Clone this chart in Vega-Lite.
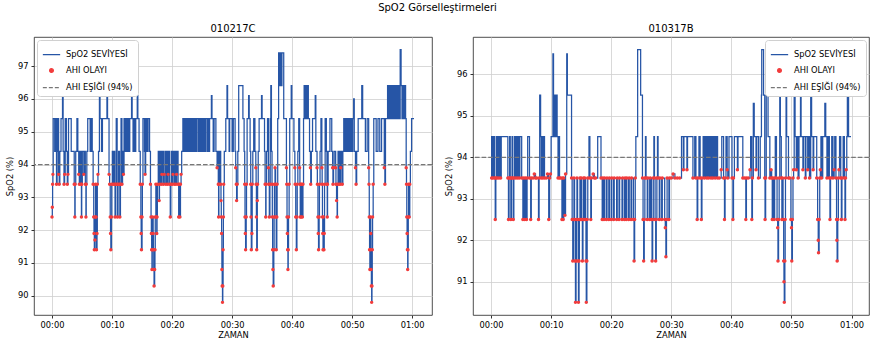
{
"$schema":"https://vega.github.io/schema/vega-lite/v6.json",
"padding":{"left":5,"top":2,"right":0,"bottom":0},
"title":{"text":"SpO2 Görselleştirmeleri","fontSize":10,"font":"DejaVu Sans","fontWeight":"normal","offset":11,"anchor":"middle","color":"#000"},
"datasets":{
"a":[{"t":0,"v":92.4},{"t":0.05,"v":92.7},{"t":0.1,"v":93.4},{"t":0.15,"v":93.7},{"t":0.2,"v":95.4},{"t":0.45,"v":94.4},{"t":0.55,"v":95.4},{"t":0.75,"v":93.4},{"t":0.85,"v":94.4},{"t":0.95,"v":95.4},{"t":1.1,"v":93.7},{"t":1.2,"v":93.4},{"t":1.3,"v":94.4},{"t":1.5,"v":95.4},{"t":1.75,"v":96.1},{"t":1.85,"v":94.4},{"t":2.0,"v":93.4},{"t":2.1,"v":93.7},{"t":2.2,"v":95.4},{"t":2.4,"v":94.4},{"t":2.55,"v":93.4},{"t":2.65,"v":93.7},{"t":2.75,"v":95.4},{"t":3.2,"v":94.4},{"t":3.7,"v":93.4},{"t":3.8,"v":92.4},{"t":3.85,"v":93.4},{"t":3.95,"v":94.4},{"t":4.15,"v":95.4},{"t":4.3,"v":94.4},{"t":4.45,"v":93.7},{"t":4.55,"v":93.4},{"t":4.65,"v":94.4},{"t":4.85,"v":93.4},{"t":4.9,"v":92.4},{"t":4.95,"v":93.4},{"t":5.05,"v":94.4},{"t":5.3,"v":93.7},{"t":5.4,"v":94.4},{"t":5.55,"v":93.4},{"t":5.65,"v":92.4},{"t":5.7,"v":93.4},{"t":5.8,"v":94.4},{"t":5.95,"v":95.4},{"t":6.35,"v":94.4},{"t":6.5,"v":95.4},{"t":6.7,"v":94.4},{"t":6.85,"v":93.4},{"t":6.95,"v":92.4},{"t":7.0,"v":91.9},{"t":7.05,"v":91.4},{"t":7.15,"v":91.7},{"t":7.2,"v":92.4},{"t":7.25,"v":93.4},{"t":7.35,"v":92.4},{"t":7.4,"v":91.4},{"t":7.5,"v":91.9},{"t":7.55,"v":93.4},{"t":7.65,"v":93.7},{"t":7.75,"v":94.4},{"t":7.9,"v":96.4},{"t":8.0,"v":95.4},{"t":8.25,"v":94.4},{"t":8.4,"v":95.4},{"t":9.15,"v":96.4},{"t":9.25,"v":95.4},{"t":9.5,"v":93.7},{"t":9.6,"v":93.4},{"t":9.7,"v":92.4},{"t":9.75,"v":91.9},{"t":9.8,"v":91.4},{"t":9.9,"v":92.4},{"t":9.95,"v":93.4},{"t":10.05,"v":94.4},{"t":10.2,"v":93.4},{"t":10.3,"v":94.4},{"t":10.45,"v":93.4},{"t":10.5,"v":92.4},{"t":10.6,"v":93.4},{"t":10.7,"v":95.4},{"t":10.85,"v":93.4},{"t":10.9,"v":92.4},{"t":11.0,"v":93.4},{"t":11.1,"v":94.4},{"t":11.25,"v":93.4},{"t":11.3,"v":92.4},{"t":11.4,"v":93.4},{"t":11.5,"v":95.4},{"t":11.65,"v":93.4},{"t":11.75,"v":94.4},{"t":11.9,"v":93.7},{"t":12.0,"v":95.4},{"t":12.2,"v":94.4},{"t":12.35,"v":95.4},{"t":12.5,"v":94.4},{"t":12.65,"v":95.4},{"t":12.8,"v":94.4},{"t":12.95,"v":95.4},{"t":13.25,"v":96.4},{"t":13.35,"v":95.4},{"t":13.5,"v":94.4},{"t":13.6,"v":95.4},{"t":13.8,"v":94.4},{"t":13.95,"v":95.4},{"t":14.2,"v":96.1},{"t":14.3,"v":95.4},{"t":14.5,"v":94.4},{"t":14.7,"v":93.4},{"t":14.8,"v":92.4},{"t":14.85,"v":91.9},{"t":14.9,"v":91.4},{"t":15.0,"v":92.4},{"t":15.05,"v":93.4},{"t":15.15,"v":95.4},{"t":15.4,"v":94.4},{"t":15.5,"v":93.7},{"t":15.6,"v":95.4},{"t":15.8,"v":94.4},{"t":16.0,"v":95.4},{"t":16.25,"v":94.4},{"t":16.4,"v":93.4},{"t":16.5,"v":92.4},{"t":16.55,"v":91.9},{"t":16.6,"v":91.4},{"t":16.65,"v":90.8},{"t":16.7,"v":91.4},{"t":16.75,"v":92.4},{"t":16.85,"v":91.9},{"t":16.9,"v":91.4},{"t":16.95,"v":90.8},{"t":17.0,"v":90.3},{"t":17.1,"v":90.8},{"t":17.15,"v":91.4},{"t":17.2,"v":92.4},{"t":17.3,"v":93.4},{"t":17.35,"v":92.4},{"t":17.45,"v":91.9},{"t":17.5,"v":92.4},{"t":17.55,"v":93.4},{"t":17.7,"v":94.4},{"t":17.85,"v":92.9},{"t":17.9,"v":93.4},{"t":18.05,"v":94.4},{"t":18.2,"v":93.4},{"t":18.3,"v":93.7},{"t":18.4,"v":94.4},{"t":18.55,"v":93.4},{"t":18.7,"v":93.7},{"t":18.8,"v":94.4},{"t":18.95,"v":93.4},{"t":19.1,"v":94.4},{"t":19.25,"v":93.4},{"t":19.35,"v":93.7},{"t":19.45,"v":94.4},{"t":19.6,"v":93.4},{"t":19.7,"v":92.4},{"t":19.8,"v":93.4},{"t":19.9,"v":94.4},{"t":20.05,"v":93.4},{"t":20.15,"v":93.7},{"t":20.25,"v":94.4},{"t":20.4,"v":93.4},{"t":20.5,"v":94.4},{"t":20.65,"v":93.4},{"t":20.75,"v":93.7},{"t":20.85,"v":94.4},{"t":21.0,"v":93.4},{"t":21.1,"v":92.4},{"t":21.2,"v":93.4},{"t":21.3,"v":92.4},{"t":21.4,"v":93.4},{"t":21.5,"v":93.7},{"t":21.6,"v":94.4},{"t":21.8,"v":95.4},{"t":22.0,"v":94.4},{"t":22.1,"v":95.4},{"t":22.3,"v":94.4},{"t":22.4,"v":95.4},{"t":22.55,"v":94.4},{"t":22.65,"v":95.4},{"t":22.85,"v":94.4},{"t":22.95,"v":95.4},{"t":23.15,"v":94.4},{"t":23.25,"v":95.4},{"t":23.4,"v":94.4},{"t":23.5,"v":95.4},{"t":23.7,"v":94.4},{"t":23.8,"v":95.4},{"t":24.0,"v":94.4},{"t":24.1,"v":95.4},{"t":24.35,"v":94.4},{"t":24.45,"v":95.4},{"t":24.6,"v":94.4},{"t":24.7,"v":95.4},{"t":24.9,"v":94.4},{"t":25.0,"v":95.4},{"t":25.2,"v":94.4},{"t":25.3,"v":95.4},{"t":25.5,"v":94.4},{"t":25.6,"v":95.4},{"t":25.85,"v":94.4},{"t":25.95,"v":95.4},{"t":26.15,"v":94.4},{"t":26.25,"v":95.4},{"t":26.55,"v":96.1},{"t":26.65,"v":95.4},{"t":26.85,"v":94.4},{"t":27.0,"v":95.4},{"t":27.3,"v":94.4},{"t":27.5,"v":93.9},{"t":27.6,"v":94.4},{"t":27.7,"v":93.4},{"t":27.75,"v":92.4},{"t":27.8,"v":93.4},{"t":27.9,"v":94.4},{"t":28.1,"v":93.4},{"t":28.15,"v":92.9},{"t":28.2,"v":92.4},{"t":28.25,"v":91.9},{"t":28.3,"v":90.8},{"t":28.35,"v":90.3},{"t":28.4,"v":89.8},{"t":28.45,"v":90.3},{"t":28.5,"v":91.4},{"t":28.55,"v":92.4},{"t":28.6,"v":93.4},{"t":28.7,"v":94.4},{"t":28.95,"v":95.4},{"t":29.15,"v":96.4},{"t":29.25,"v":95.4},{"t":29.5,"v":94.4},{"t":29.6,"v":95.4},{"t":30.0,"v":94.4},{"t":30.2,"v":95.4},{"t":30.5,"v":94.4},{"t":30.6,"v":93.9},{"t":30.7,"v":93.4},{"t":30.75,"v":92.9},{"t":30.85,"v":93.4},{"t":30.95,"v":94.4},{"t":31.1,"v":96.4},{"t":31.8,"v":95.4},{"t":32.0,"v":94.4},{"t":32.1,"v":93.4},{"t":32.15,"v":92.4},{"t":32.2,"v":91.9},{"t":32.25,"v":91.4},{"t":32.35,"v":92.4},{"t":32.4,"v":93.4},{"t":32.5,"v":95.4},{"t":32.75,"v":96.1},{"t":32.85,"v":95.4},{"t":33.0,"v":94.4},{"t":33.1,"v":93.4},{"t":33.15,"v":92.4},{"t":33.2,"v":91.4},{"t":33.3,"v":91.9},{"t":33.35,"v":93.4},{"t":33.45,"v":94.4},{"t":33.6,"v":95.4},{"t":33.8,"v":94.4},{"t":33.95,"v":93.9},{"t":34.0,"v":93.4},{"t":34.05,"v":92.4},{"t":34.1,"v":91.4},{"t":34.2,"v":92.9},{"t":34.25,"v":93.4},{"t":34.35,"v":94.4},{"t":34.5,"v":95.4},{"t":34.9,"v":96.1},{"t":35.0,"v":95.4},{"t":35.4,"v":94.4},{"t":35.5,"v":93.4},{"t":35.6,"v":92.4},{"t":35.65,"v":93.4},{"t":35.75,"v":94.4},{"t":35.9,"v":95.4},{"t":36.05,"v":93.9},{"t":36.1,"v":93.4},{"t":36.2,"v":92.4},{"t":36.3,"v":93.4},{"t":36.35,"v":95.4},{"t":36.45,"v":96.4},{"t":36.55,"v":94.4},{"t":36.65,"v":93.4},{"t":36.7,"v":92.4},{"t":36.75,"v":91.4},{"t":36.8,"v":90.8},{"t":36.85,"v":90.3},{"t":36.95,"v":91.4},{"t":37.0,"v":92.4},{"t":37.05,"v":93.4},{"t":37.15,"v":93.9},{"t":37.25,"v":93.4},{"t":37.3,"v":92.4},{"t":37.35,"v":91.4},{"t":37.45,"v":92.4},{"t":37.5,"v":93.4},{"t":37.6,"v":95.4},{"t":37.75,"v":97.4},{"t":37.9,"v":96.4},{"t":38.0,"v":97.4},{"t":38.2,"v":96.4},{"t":38.3,"v":97.4},{"t":38.6,"v":95.4},{"t":39.05,"v":93.9},{"t":39.1,"v":93.4},{"t":39.15,"v":92.4},{"t":39.2,"v":91.9},{"t":39.25,"v":91.4},{"t":39.3,"v":90.8},{"t":39.35,"v":91.4},{"t":39.4,"v":92.4},{"t":39.5,"v":93.4},{"t":39.6,"v":95.4},{"t":39.85,"v":96.4},{"t":39.95,"v":95.4},{"t":40.3,"v":94.4},{"t":40.45,"v":93.9},{"t":40.5,"v":93.4},{"t":40.6,"v":92.4},{"t":40.7,"v":91.4},{"t":40.8,"v":92.4},{"t":40.85,"v":93.4},{"t":40.95,"v":94.4},{"t":41.1,"v":95.4},{"t":41.25,"v":93.9},{"t":41.3,"v":93.4},{"t":41.35,"v":92.4},{"t":41.45,"v":93.4},{"t":41.5,"v":92.4},{"t":41.6,"v":93.4},{"t":41.7,"v":92.4},{"t":41.8,"v":93.4},{"t":41.9,"v":95.4},{"t":42.0,"v":96.4},{"t":42.1,"v":95.4},{"t":42.2,"v":96.4},{"t":42.4,"v":95.4},{"t":42.5,"v":96.4},{"t":42.7,"v":95.4},{"t":42.9,"v":94.4},{"t":43.05,"v":93.9},{"t":43.1,"v":93.4},{"t":43.2,"v":94.4},{"t":43.4,"v":95.4},{"t":43.85,"v":96.1},{"t":43.95,"v":94.4},{"t":44.15,"v":93.9},{"t":44.2,"v":93.4},{"t":44.3,"v":92.4},{"t":44.35,"v":91.9},{"t":44.4,"v":91.4},{"t":44.5,"v":92.4},{"t":44.55,"v":93.4},{"t":44.65,"v":94.4},{"t":44.8,"v":95.4},{"t":44.95,"v":93.9},{"t":45.0,"v":93.4},{"t":45.05,"v":92.4},{"t":45.1,"v":91.9},{"t":45.15,"v":91.4},{"t":45.2,"v":92.4},{"t":45.3,"v":91.4},{"t":45.35,"v":91.9},{"t":45.4,"v":93.4},{"t":45.5,"v":95.4},{"t":45.7,"v":94.4},{"t":45.8,"v":93.4},{"t":45.85,"v":92.4},{"t":45.9,"v":93.4},{"t":46.0,"v":94.4},{"t":46.3,"v":95.4},{"t":46.6,"v":94.4},{"t":46.75,"v":93.9},{"t":46.8,"v":93.4},{"t":46.9,"v":93.9},{"t":47.0,"v":94.4},{"t":47.25,"v":93.9},{"t":47.3,"v":93.4},{"t":47.4,"v":92.9},{"t":47.5,"v":92.4},{"t":47.55,"v":93.4},{"t":47.65,"v":94.4},{"t":47.8,"v":93.4},{"t":47.9,"v":94.4},{"t":48.0,"v":93.4},{"t":48.1,"v":93.9},{"t":48.2,"v":94.4},{"t":48.35,"v":93.4},{"t":48.45,"v":94.4},{"t":48.6,"v":95.4},{"t":48.75,"v":94.4},{"t":48.85,"v":95.4},{"t":49.0,"v":94.4},{"t":49.1,"v":95.4},{"t":49.25,"v":94.4},{"t":49.35,"v":95.4},{"t":49.5,"v":94.4},{"t":49.6,"v":95.4},{"t":49.75,"v":94.4},{"t":49.85,"v":95.4},{"t":50.0,"v":94.4},{"t":50.1,"v":95.4},{"t":50.25,"v":96.0},{"t":50.35,"v":94.4},{"t":50.55,"v":93.9},{"t":50.65,"v":93.4},{"t":50.75,"v":94.4},{"t":51.0,"v":95.4},{"t":51.6,"v":96.4},{"t":51.75,"v":95.4},{"t":52.2,"v":94.4},{"t":52.5,"v":95.4},{"t":52.75,"v":93.9},{"t":52.8,"v":93.4},{"t":52.85,"v":92.4},{"t":52.9,"v":91.4},{"t":52.95,"v":90.8},{"t":53.0,"v":91.4},{"t":53.05,"v":92.4},{"t":53.1,"v":91.9},{"t":53.15,"v":90.8},{"t":53.2,"v":90.3},{"t":53.25,"v":89.8},{"t":53.3,"v":90.3},{"t":53.35,"v":91.4},{"t":53.4,"v":92.4},{"t":53.5,"v":93.4},{"t":53.6,"v":95.4},{"t":54.0,"v":94.4},{"t":54.3,"v":95.4},{"t":54.6,"v":94.4},{"t":54.9,"v":95.4},{"t":55.35,"v":93.9},{"t":55.45,"v":93.4},{"t":55.55,"v":95.4},{"t":55.9,"v":96.4},{"t":56.0,"v":95.4},{"t":56.2,"v":96.4},{"t":56.3,"v":95.4},{"t":56.5,"v":96.4},{"t":56.6,"v":95.4},{"t":56.8,"v":96.4},{"t":56.9,"v":95.4},{"t":57.1,"v":96.4},{"t":57.2,"v":95.4},{"t":57.4,"v":96.4},{"t":57.5,"v":95.4},{"t":57.7,"v":96.4},{"t":57.8,"v":95.4},{"t":58.0,"v":97.5},{"t":58.15,"v":96.4},{"t":58.3,"v":95.4},{"t":58.45,"v":96.4},{"t":58.6,"v":95.4},{"t":58.75,"v":96.4},{"t":58.9,"v":95.4},{"t":59.0,"v":93.9},{"t":59.05,"v":93.4},{"t":59.1,"v":92.4},{"t":59.15,"v":91.9},{"t":59.2,"v":91.4},{"t":59.25,"v":90.8},{"t":59.3,"v":91.4},{"t":59.35,"v":92.4},{"t":59.4,"v":93.4},{"t":59.5,"v":92.4},{"t":59.6,"v":93.4},{"t":59.7,"v":94.4},{"t":59.9,"v":95.4},{"t":60.3,"v":95.4}],
"b":[{"t":0,"v":94.5},{"t":0.1,"v":93.5},{"t":0.2,"v":94.5},{"t":0.3,"v":93.5},{"t":0.4,"v":94.5},{"t":0.6,"v":93.5},{"t":0.7,"v":92.5},{"t":0.8,"v":93.5},{"t":0.9,"v":94.5},{"t":1.0,"v":93.5},{"t":1.1,"v":94.5},{"t":1.3,"v":93.5},{"t":1.4,"v":94.5},{"t":1.6,"v":93.5},{"t":1.7,"v":94.5},{"t":2.8,"v":93.5},{"t":2.9,"v":92.5},{"t":3.0,"v":93.5},{"t":3.1,"v":94.5},{"t":3.2,"v":93.5},{"t":3.3,"v":92.5},{"t":3.4,"v":93.5},{"t":3.5,"v":94.5},{"t":3.6,"v":93.5},{"t":3.7,"v":92.5},{"t":3.8,"v":93.5},{"t":3.9,"v":94.5},{"t":4.1,"v":93.5},{"t":4.2,"v":94.5},{"t":4.4,"v":93.5},{"t":4.5,"v":94.5},{"t":4.7,"v":93.5},{"t":4.8,"v":94.5},{"t":5.1,"v":93.5},{"t":5.3,"v":92.5},{"t":5.4,"v":93.5},{"t":5.6,"v":92.5},{"t":5.7,"v":93.5},{"t":5.9,"v":92.5},{"t":6.0,"v":93.5},{"t":6.1,"v":94.5},{"t":6.4,"v":93.5},{"t":6.6,"v":92.5},{"t":6.7,"v":93.5},{"t":7.0,"v":93.5},{"t":7.2,"v":93.6},{"t":7.4,"v":93.5},{"t":7.6,"v":93.5},{"t":7.9,"v":92.5},{"t":8.0,"v":93.5},{"t":8.1,"v":95.5},{"t":8.25,"v":94.5},{"t":8.35,"v":93.5},{"t":8.5,"v":94.5},{"t":8.6,"v":93.5},{"t":8.7,"v":94.5},{"t":8.9,"v":93.5},{"t":9.2,"v":93.5},{"t":9.4,"v":93.6},{"t":9.6,"v":92.5},{"t":9.75,"v":93.5},{"t":9.9,"v":93.6},{"t":10.0,"v":94.5},{"t":10.3,"v":96.5},{"t":10.4,"v":94.5},{"t":10.5,"v":95.5},{"t":10.6,"v":94.5},{"t":10.7,"v":95.5},{"t":10.8,"v":94.5},{"t":10.9,"v":95.5},{"t":11.0,"v":94.5},{"t":11.15,"v":93.5},{"t":11.3,"v":94.5},{"t":11.4,"v":93.5},{"t":11.6,"v":93.5},{"t":11.8,"v":92.5},{"t":11.9,"v":93.5},{"t":12.0,"v":92.5},{"t":12.1,"v":93.5},{"t":12.3,"v":92.6},{"t":12.4,"v":93.6},{"t":12.6,"v":96.5},{"t":12.7,"v":95.5},{"t":13.4,"v":93.5},{"t":13.5,"v":92.5},{"t":13.6,"v":91.5},{"t":13.7,"v":92.5},{"t":13.8,"v":93.5},{"t":13.9,"v":92.5},{"t":14.0,"v":91.5},{"t":14.05,"v":90.5},{"t":14.15,"v":91.5},{"t":14.2,"v":92.5},{"t":14.3,"v":93.5},{"t":14.4,"v":92.5},{"t":14.5,"v":91.5},{"t":14.55,"v":90.5},{"t":14.65,"v":91.5},{"t":14.7,"v":92.5},{"t":14.8,"v":93.5},{"t":14.9,"v":92.5},{"t":15.0,"v":93.5},{"t":15.1,"v":92.5},{"t":15.2,"v":91.5},{"t":15.3,"v":92.5},{"t":15.4,"v":93.5},{"t":15.5,"v":92.5},{"t":15.6,"v":93.5},{"t":15.75,"v":92.5},{"t":15.8,"v":91.5},{"t":15.85,"v":90.5},{"t":15.95,"v":91.5},{"t":16.0,"v":92.5},{"t":16.1,"v":93.5},{"t":16.3,"v":94.5},{"t":16.45,"v":93.5},{"t":16.6,"v":92.5},{"t":16.7,"v":93.5},{"t":17.0,"v":93.6},{"t":17.2,"v":93.5},{"t":17.4,"v":93.5},{"t":17.75,"v":94.5},{"t":18.3,"v":93.5},{"t":18.5,"v":92.5},{"t":18.6,"v":93.5},{"t":18.8,"v":92.5},{"t":18.9,"v":93.5},{"t":19.2,"v":92.5},{"t":19.3,"v":93.5},{"t":19.6,"v":92.5},{"t":19.7,"v":93.5},{"t":20.0,"v":92.5},{"t":20.1,"v":93.5},{"t":20.4,"v":92.5},{"t":20.5,"v":93.5},{"t":20.9,"v":92.5},{"t":21.0,"v":93.5},{"t":21.3,"v":92.5},{"t":21.4,"v":93.5},{"t":21.8,"v":92.5},{"t":21.9,"v":93.5},{"t":22.2,"v":92.5},{"t":22.3,"v":93.5},{"t":22.5,"v":92.5},{"t":22.6,"v":93.5},{"t":22.9,"v":92.5},{"t":23.0,"v":93.5},{"t":23.3,"v":92.5},{"t":23.4,"v":93.5},{"t":23.7,"v":92.5},{"t":23.8,"v":91.5},{"t":23.9,"v":92.5},{"t":24.0,"v":93.5},{"t":24.1,"v":94.5},{"t":24.4,"v":96.6},{"t":24.9,"v":95.5},{"t":25.2,"v":93.5},{"t":25.3,"v":92.5},{"t":25.4,"v":91.5},{"t":25.5,"v":92.5},{"t":25.6,"v":93.5},{"t":25.7,"v":94.5},{"t":25.8,"v":93.5},{"t":26.0,"v":92.5},{"t":26.1,"v":93.5},{"t":26.4,"v":92.5},{"t":26.5,"v":93.5},{"t":26.7,"v":92.5},{"t":26.8,"v":91.5},{"t":26.9,"v":92.5},{"t":27.0,"v":93.5},{"t":27.1,"v":94.5},{"t":27.2,"v":93.5},{"t":27.3,"v":92.5},{"t":27.4,"v":91.5},{"t":27.5,"v":92.5},{"t":27.6,"v":93.5},{"t":27.7,"v":94.5},{"t":27.8,"v":93.5},{"t":28.0,"v":92.5},{"t":28.1,"v":93.5},{"t":28.4,"v":92.5},{"t":28.5,"v":93.5},{"t":28.9,"v":92.5},{"t":29.0,"v":92.3},{"t":29.1,"v":91.6},{"t":29.2,"v":92.5},{"t":29.3,"v":93.5},{"t":29.6,"v":92.5},{"t":29.7,"v":93.5},{"t":30.0,"v":93.5},{"t":30.3,"v":93.6},{"t":30.6,"v":93.5},{"t":31.0,"v":93.5},{"t":31.4,"v":93.5},{"t":31.7,"v":94.5},{"t":32.0,"v":93.7},{"t":32.1,"v":94.5},{"t":32.6,"v":93.7},{"t":32.7,"v":94.5},{"t":33.6,"v":93.5},{"t":33.9,"v":94.5},{"t":34.1,"v":93.5},{"t":34.3,"v":92.5},{"t":34.4,"v":93.5},{"t":34.6,"v":94.5},{"t":34.8,"v":93.5},{"t":35.0,"v":92.5},{"t":35.1,"v":93.5},{"t":35.3,"v":94.5},{"t":35.5,"v":93.5},{"t":35.7,"v":94.5},{"t":35.9,"v":93.5},{"t":36.0,"v":94.5},{"t":36.2,"v":93.5},{"t":36.4,"v":94.5},{"t":36.6,"v":93.5},{"t":36.7,"v":94.5},{"t":36.9,"v":93.5},{"t":37.1,"v":94.5},{"t":37.3,"v":93.5},{"t":37.5,"v":94.5},{"t":37.7,"v":93.5},{"t":38.0,"v":93.5},{"t":38.3,"v":93.7},{"t":38.4,"v":94.5},{"t":38.7,"v":93.5},{"t":38.85,"v":92.5},{"t":38.95,"v":93.5},{"t":39.1,"v":94.5},{"t":39.3,"v":93.7},{"t":39.4,"v":93.5},{"t":39.6,"v":94.5},{"t":40.1,"v":93.5},{"t":40.25,"v":92.5},{"t":40.35,"v":93.5},{"t":40.5,"v":94.5},{"t":41.0,"v":93.7},{"t":41.1,"v":94.5},{"t":41.9,"v":93.5},{"t":42.2,"v":93.5},{"t":42.4,"v":92.5},{"t":42.5,"v":93.5},{"t":42.8,"v":93.5},{"t":43.1,"v":93.7},{"t":43.2,"v":94.5},{"t":43.4,"v":92.5},{"t":43.5,"v":93.5},{"t":43.65,"v":95.3},{"t":43.8,"v":94.5},{"t":44.1,"v":93.7},{"t":44.2,"v":94.5},{"t":44.5,"v":93.5},{"t":44.8,"v":94.5},{"t":45.0,"v":95.5},{"t":45.05,"v":96.6},{"t":45.35,"v":95.5},{"t":45.55,"v":93.5},{"t":45.6,"v":92.5},{"t":45.7,"v":93.5},{"t":45.8,"v":95.5},{"t":46.1,"v":94.5},{"t":46.4,"v":93.5},{"t":46.6,"v":93.7},{"t":46.7,"v":93.5},{"t":46.8,"v":92.5},{"t":46.9,"v":93.5},{"t":47.1,"v":92.5},{"t":47.2,"v":93.5},{"t":47.3,"v":94.5},{"t":47.5,"v":93.5},{"t":47.6,"v":92.5},{"t":47.7,"v":92.3},{"t":47.75,"v":91.5},{"t":47.85,"v":92.5},{"t":47.95,"v":93.5},{"t":48.05,"v":95.5},{"t":48.15,"v":94.5},{"t":48.3,"v":93.5},{"t":48.4,"v":92.5},{"t":48.5,"v":93.5},{"t":48.6,"v":92.5},{"t":48.7,"v":91.5},{"t":48.75,"v":91.0},{"t":48.8,"v":90.5},{"t":48.9,"v":91.5},{"t":48.95,"v":92.5},{"t":49.0,"v":93.5},{"t":49.1,"v":95.5},{"t":49.2,"v":94.5},{"t":49.5,"v":93.5},{"t":49.7,"v":93.5},{"t":49.9,"v":92.5},{"t":50.0,"v":92.3},{"t":50.05,"v":91.5},{"t":50.15,"v":92.5},{"t":50.25,"v":93.5},{"t":50.35,"v":93.7},{"t":50.45,"v":95.5},{"t":50.6,"v":94.5},{"t":50.8,"v":93.7},{"t":50.95,"v":94.5},{"t":51.1,"v":93.5},{"t":51.25,"v":94.5},{"t":51.5,"v":95.5},{"t":51.6,"v":94.5},{"t":51.9,"v":93.7},{"t":52.0,"v":94.5},{"t":52.3,"v":93.5},{"t":52.4,"v":94.5},{"t":52.7,"v":93.7},{"t":52.8,"v":94.5},{"t":53.0,"v":93.5},{"t":53.2,"v":95.5},{"t":53.35,"v":94.5},{"t":53.6,"v":93.7},{"t":53.7,"v":94.5},{"t":54.2,"v":93.5},{"t":54.35,"v":92.5},{"t":54.45,"v":92.0},{"t":54.5,"v":91.7},{"t":54.6,"v":92.5},{"t":54.7,"v":93.5},{"t":54.8,"v":93.7},{"t":54.9,"v":94.5},{"t":55.0,"v":93.5},{"t":55.2,"v":94.5},{"t":55.55,"v":95.3},{"t":55.7,"v":94.5},{"t":55.9,"v":93.5},{"t":56.1,"v":94.5},{"t":56.3,"v":93.5},{"t":56.4,"v":92.5},{"t":56.5,"v":93.5},{"t":56.7,"v":94.5},{"t":56.9,"v":93.5},{"t":57.1,"v":93.7},{"t":57.2,"v":94.5},{"t":57.4,"v":93.5},{"t":57.5,"v":92.5},{"t":57.55,"v":92.0},{"t":57.6,"v":91.5},{"t":57.7,"v":92.5},{"t":57.8,"v":93.5},{"t":57.9,"v":93.7},{"t":58.0,"v":94.5},{"t":58.2,"v":93.5},{"t":58.3,"v":92.5},{"t":58.4,"v":93.5},{"t":58.6,"v":94.5},{"t":58.8,"v":93.5},{"t":58.9,"v":92.5},{"t":59.0,"v":93.5},{"t":59.1,"v":93.7},{"t":59.2,"v":94.5},{"t":59.3,"v":95.5},{"t":59.5,"v":94.5},{"t":59.9,"v":94.5}]
},
"spacing":10,
"hconcat":[
{"width":398,"height":278,"title":"010217C","data":{"name":"a"},
"layer":[
{"mark":{"type":"line","interpolate":"step-after","strokeWidth":1.25},
"encoding":{
"x":{"field":"t","type":"quantitative","title":"ZAMAN","scale":{"domain":[-3.0,63.3],"nice":false,"zero":false},"axis":{"values":[0,10,20,30,40,50,60],"labelOverlap":false,"labelExpr":"datum.value == 60 ? '01:00' : (datum.value == 0 ? '00:00' : '00:' + datum.value)"}},
"y":{"field":"v","type":"quantitative","title":"SpO2 (%)","scale":{"domain":[89.415,97.885],"nice":false,"zero":false},"axis":{"values":[90,91,92,93,94,95,96,97],"tickCount":8,"labelOverlap":false}},
"color":{"datum":"SpO2 SEVİYESİ","scale":{"domain":["SpO2 SEVİYESİ","AHI OLAYI","AHI EŞİĞİ (94%)"],"range":["#2655a6","#f23c3c","#777777"]},
"legend":{"orient":"top-left","offset":3,"title":null,"padding":5,"fillColor":"white","strokeColor":"#d0d0d0","cornerRadius":3,"labelFontSize":8.3,"labelFont":"DejaVu Sans","labelColor":"#000","symbolSize":300,"rowPadding":3,"labelOffset":5,"symbolStrokeWidth":1.25,
"encode":{"symbols":{"update":{"shape":{"signal":"datum.index === 1 ? 'circle' : 'stroke'"},"size":{"signal":"datum.index === 1 ? 14 : 300"},"fill":{"signal":"datum.index === 1 ? '#f23c3c' : 'transparent'"},"stroke":{"signal":"datum.index === 0 ? '#2655a6' : (datum.index === 2 ? '#777777' : 'transparent')"},"strokeDash":{"signal":"datum.index === 2 ? [4,2] : [1,0]"},"strokeWidth":{"value":1.25},"opacity":{"value":1}}}}}}
}},
{"transform":[{"filter":"datum.v < 94"}],"mark":{"type":"circle","size":12,"opacity":1},
"encoding":{"x":{"field":"t","type":"quantitative","axis":{"values":[0,10,20,30,40,50,60],"labelOverlap":false}},"y":{"field":"v","type":"quantitative","axis":{"values":[90,91,92,93,94,95,96,97],"tickCount":8,"labelOverlap":false}},"color":{"datum":"AHI OLAYI"}}},
{"data":{"values":[{}]},"mark":{"type":"rule","strokeDash":[4.6,2],"strokeWidth":1.25},"encoding":{"y":{"datum":94,"axis":{"values":[90,91,92,93,94,95,96,97],"tickCount":8,"labelOverlap":false}},"color":{"datum":"AHI EŞİĞİ (94%)"}}}
]},
{"width":396,"height":278,"title":"010317B","data":{"name":"b"},
"layer":[
{"mark":{"type":"line","interpolate":"step-after","strokeWidth":1.25},
"encoding":{
"x":{"field":"t","type":"quantitative","title":"ZAMAN","scale":{"domain":[-3.0,62.9],"nice":false,"zero":false},"axis":{"values":[0,10,20,30,40,50,60],"labelOverlap":false,"labelExpr":"datum.value == 60 ? '01:00' : (datum.value == 0 ? '00:00' : '00:' + datum.value)"}},
"y":{"field":"v","type":"quantitative","title":"SpO2 (%)","scale":{"domain":[90.195,96.905],"nice":false,"zero":false},"axis":{"values":[91,92,93,94,95,96],"labelOverlap":false}},
"color":{"datum":"SpO2 SEVİYESİ","scale":{"domain":["SpO2 SEVİYESİ","AHI OLAYI","AHI EŞİĞİ (94%)"],"range":["#2655a6","#f23c3c","#777777"]},
"legend":{"orient":"top-right","offset":3,"title":null,"padding":5,"fillColor":"white","strokeColor":"#d0d0d0","cornerRadius":3,"labelFontSize":8.3,"labelFont":"DejaVu Sans","labelColor":"#000","symbolSize":300,"rowPadding":3,"labelOffset":5,"symbolStrokeWidth":1.25,
"encode":{"symbols":{"update":{"shape":{"signal":"datum.index === 1 ? 'circle' : 'stroke'"},"size":{"signal":"datum.index === 1 ? 14 : 300"},"fill":{"signal":"datum.index === 1 ? '#f23c3c' : 'transparent'"},"stroke":{"signal":"datum.index === 0 ? '#2655a6' : (datum.index === 2 ? '#777777' : 'transparent')"},"strokeDash":{"signal":"datum.index === 2 ? [4,2] : [1,0]"},"strokeWidth":{"value":1.25},"opacity":{"value":1}}}}}}
}},
{"transform":[{"filter":"datum.v < 94"}],"mark":{"type":"circle","size":12,"opacity":1},
"encoding":{"x":{"field":"t","type":"quantitative"},"y":{"field":"v","type":"quantitative"},"color":{"datum":"AHI OLAYI"}}},
{"data":{"values":[{}]},"mark":{"type":"rule","strokeDash":[4.6,2],"strokeWidth":1.25},"encoding":{"y":{"datum":94},"color":{"datum":"AHI EŞİĞİ (94%)"}}}
]}
],
"resolve":{"scale":{"color":"independent","x":"independent","y":"independent"},"legend":{"color":"independent"}},
"config":{
"view":{"stroke":"#222","strokeWidth":0.8},
"title":{"fontSize":10,"font":"DejaVu Sans","fontWeight":"normal","offset":3,"color":"#000"},
"axis":{"grid":true,"gridColor":"#cfcfcf","gridWidth":0.8,"domain":false,"tickColor":"#000","tickSize":3,"tickWidth":0.8,"labelFont":"DejaVu Sans","labelFontSize":8.3,"labelColor":"#000","labelPadding":2.5,"titleFont":"DejaVu Sans","titleFontSize":8.3,"titleFontWeight":"normal","titleColor":"#000","titlePadding":3},
"axisX":{"labelDx":5,"titlePadding":2},
"axisY":{"labelPadding":3}
}
}
